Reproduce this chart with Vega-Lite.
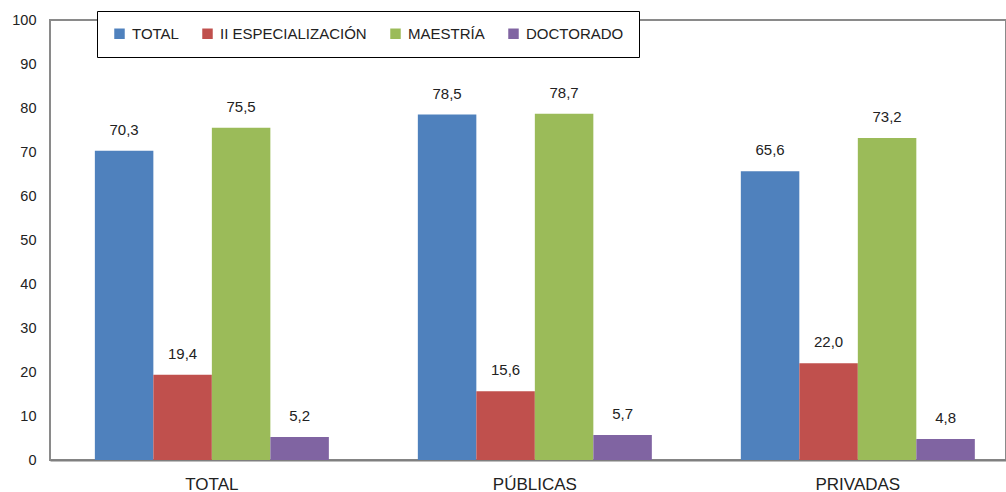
{
  "$schema": "https://vega.github.io/schema/vega-lite/v6.json",
  "autosize": "none",
  "width": 956,
  "height": 440,
  "padding": {"left": 50, "top": 20, "right": 0, "bottom": 32},
  "background": "white",
  "data": {
    "values": [
      {"grupo": "TOTAL", "serie": "TOTAL", "valor": 70.3},
      {"grupo": "TOTAL", "serie": "II ESPECIALIZACIÓN", "valor": 19.4},
      {"grupo": "TOTAL", "serie": "MAESTRÍA", "valor": 75.5},
      {"grupo": "TOTAL", "serie": "DOCTORADO", "valor": 5.2},
      {"grupo": "PÚBLICAS", "serie": "TOTAL", "valor": 78.5},
      {"grupo": "PÚBLICAS", "serie": "II ESPECIALIZACIÓN", "valor": 15.6},
      {"grupo": "PÚBLICAS", "serie": "MAESTRÍA", "valor": 78.7},
      {"grupo": "PÚBLICAS", "serie": "DOCTORADO", "valor": 5.7},
      {"grupo": "PRIVADAS", "serie": "TOTAL", "valor": 65.6},
      {"grupo": "PRIVADAS", "serie": "II ESPECIALIZACIÓN", "valor": 22.0},
      {"grupo": "PRIVADAS", "serie": "MAESTRÍA", "valor": 73.2},
      {"grupo": "PRIVADAS", "serie": "DOCTORADO", "valor": 4.8}
    ]
  },
  "encoding": {
    "x": {
      "field": "grupo", "type": "nominal",
      "sort": ["TOTAL", "PÚBLICAS", "PRIVADAS"],
      "scale": {"paddingInner": 0.2755, "paddingOuter": 0.1177, "align": 0.59},
      "axis": {"title": null, "labelAngle": 0, "ticks": false, "domainColor": "#7f7f7f", "domainWidth": 2, "labelPadding": 16, "labelFontSize": 17, "labelColor": "#222"}
    },
    "xOffset": {
      "field": "serie", "type": "nominal",
      "sort": ["TOTAL", "II ESPECIALIZACIÓN", "MAESTRÍA", "DOCTORADO"],
      "scale": {"paddingInner": 0, "paddingOuter": 0}
    },
    "y": {
      "field": "valor", "type": "quantitative",
      "scale": {"domain": [0, 100], "nice": false},
      "axis": {"title": null, "values": [0, 10, 20, 30, 40, 50, 60, 70, 80, 90, 100], "grid": false, "ticks": false, "domain": false, "labelPadding": 14, "labelFontSize": 14.5, "labelColor": "#222"}
    }
  },
  "layer": [
    {
      "mark": {"type": "bar"},
      "encoding": {
        "color": {
          "field": "serie", "type": "nominal",
          "sort": ["TOTAL", "II ESPECIALIZACIÓN", "MAESTRÍA", "DOCTORADO"],
          "scale": {"domain": ["TOTAL", "II ESPECIALIZACIÓN", "MAESTRÍA", "DOCTORADO"], "range": ["#4F81BD", "#C0504D", "#9BBB59", "#8064A2"]},
          "legend": {
            "title": null, "orient": "none", "direction": "horizontal", "columns": 4,
            "legendX": 47, "legendY": -9,
            "symbolType": "square", "symbolSize": 110, "symbolStrokeWidth": 0,
            "labelFontSize": 15, "labelColor": "#222", "labelOffset": 5,
            "columnPadding": 21, "padding": 15,
            "strokeColor": "black", "fillColor": "white"
          }
        }
      }
    },
    {
      "mark": {"type": "text", "baseline": "middle", "dy": -21, "fontSize": 15, "color": "#222"},
      "encoding": {
        "text": {"field": "valor", "type": "quantitative", "format": ".1f"}
      }
    }
  ],
  "config": {
    "font": "Liberation Sans",
    "view": {"stroke": "#8a8a8a", "strokeWidth": 2},
    "locale": {"number": {"decimal": ",", "thousands": ".", "grouping": [3], "currency": ["", ""]}}
  }
}
